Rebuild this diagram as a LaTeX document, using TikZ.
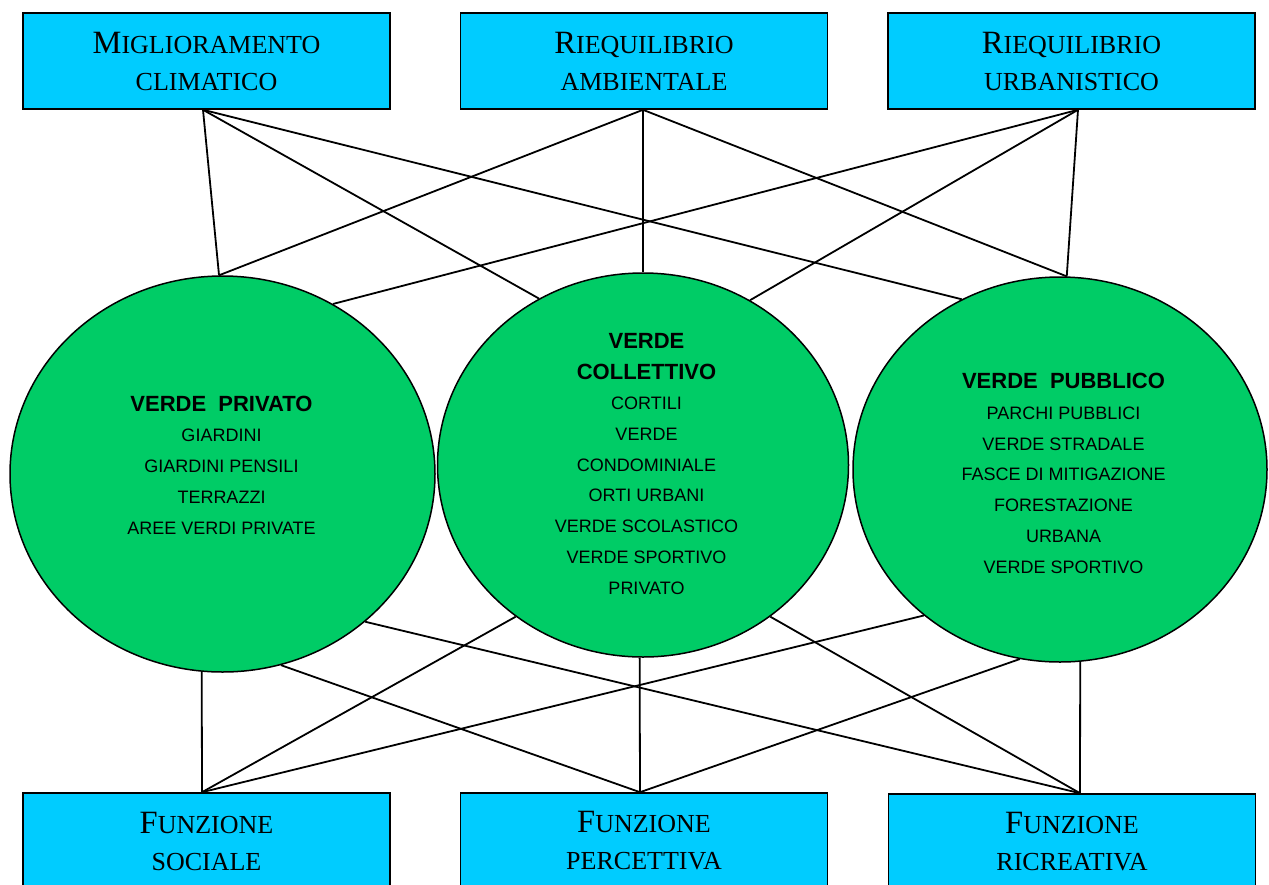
\documentclass[tikz,border=0pt]{standalone}
\usepackage{fontspec}
\setmainfont{Liberation Serif}
\newfontfamily\circfont{Liberation Sans}
\usetikzlibrary{shapes.geometric}
\definecolor{boxcyan}{RGB}{0,204,255}
\definecolor{circgreen}{RGB}{0,204,102}
\newcommand\capsA[1]{{\fontsize{32.5}{37}\selectfont #1}}
\newcommand\capsB[1]{{\fontsize{26}{37}\selectfont #1}}
\newcommand\ttl[1]{{\bfseries\fontsize{22}{30.7}\selectfont #1}}
\begin{document}
\begin{tikzpicture}[x=1pt,y=-1pt,
 fbox/.style={draw=black, line width=1.6pt, fill=boxcyan, minimum width=367pt, minimum height=96pt, inner sep=0pt, align=center, font=\fontsize{26}{37}\selectfont},
 vcirc/.style={ellipse, draw=black, line width=1.5pt, fill=circgreen, inner sep=0pt},
 vtext/.style={align=center, anchor=base, font=\circfont\fontsize{18}{30.7}\selectfont},
 link/.style={draw=black, line width=1.8pt}
]
\useasboundingbox (0,0) rectangle (1269,884);
% boxes
\node[fbox] (TL) at (206.5,61) {\capsA{M}\capsB{IGLIORAMENTO}\\\capsB{CLIMATICO}};
\node[fbox] (TM) at (644,61) {\capsA{R}\capsB{IEQUILIBRIO}\\\capsB{AMBIENTALE}};
\node[fbox] (TR) at (1071.5,61) {\capsA{R}\capsB{IEQUILIBRIO}\\\capsB{URBANISTICO}};
\node[fbox] (BL) at (206.5,841) {\capsA{F}\capsB{UNZIONE}\\\capsB{SOCIALE}};
\node[fbox] (BM) at (644,841) {\capsA{F}\capsB{UNZIONE}\\\capsB{PERCETTIVA}};
\node[fbox] (BR) at (1072,842) {\capsA{F}\capsB{UNZIONE}\\\capsB{RICREATIVA}};
% circles
\node[vcirc, minimum width=425pt, minimum height=396pt] (L) at (222.5,474) {};
\node[vcirc, minimum width=411pt, minimum height=384pt] (M) at (643,465) {};
\node[vcirc, minimum width=414pt, minimum height=385pt] (R) at (1060,469.5) {};
% circle texts (base = baseline of last line)
\node[vtext] (Lt) at (221.5,534) {\ttl{VERDE\ \ PRIVATO}\\GIARDINI\\GIARDINI PENSILI\\TERRAZZI\\AREE VERDI PRIVATE};
\node[vtext] (Mt) at (646.5,594) {\ttl{VERDE}\\\ttl{COLLETTIVO}\\CORTILI\\VERDE\\CONDOMINIALE\\ORTI URBANI\\VERDE SCOLASTICO\\VERDE SPORTIVO\\PRIVATO};
\node[vtext] (Rt) at (1063.5,573) {\ttl{VERDE\ \ PUBBLICO}\\PARCHI PUBBLICI\\VERDE STRADALE\\FASCE DI MITIGAZIONE\\FORESTAZIONE\\URBANA\\VERDE SPORTIVO};
% connector end points
\coordinate (tl) at ([xshift=-3.5pt]TL.south);
\coordinate (tm) at ([xshift=-1pt]TM.south);
\coordinate (tr) at ([xshift=6.5pt]TR.south);
\coordinate (bl) at ([xshift=-4.5pt]BL.north);
\coordinate (bm) at ([xshift=-4pt]BM.north);
\coordinate (br) at ([xshift=8pt]BR.north);
% top links
\draw[link] (tl) -- (L.91.7);
\draw[link] (tl) -- (M.122.7);
\draw[link] (tl) -- (R.120.8);
\draw[link] (tm) -- (L.91.7);
\draw[link] (tm) -- (M.90);
\draw[link] (tm) -- (R.88.5);
\draw[link] (tr) -- (L.57.4);
\draw[link] (tr) -- (M.57.2);
\draw[link] (tr) -- (R.88.5);
% bottom links
\draw[link] (bl) -- (L.264.2);
\draw[link] (bl) -- (M.230.9);
\draw[link] (bl) -- (R.227.6);
\draw[link] (bm) -- (L.287.7);
\draw[link] (bm) -- (M.269);
\draw[link] (bm) -- (R.258.1);
\draw[link] (br) -- (L.314.4);
\draw[link] (br) -- (M.310.7);
\draw[link] (br) -- (R.276);
\end{tikzpicture}
\end{document}
